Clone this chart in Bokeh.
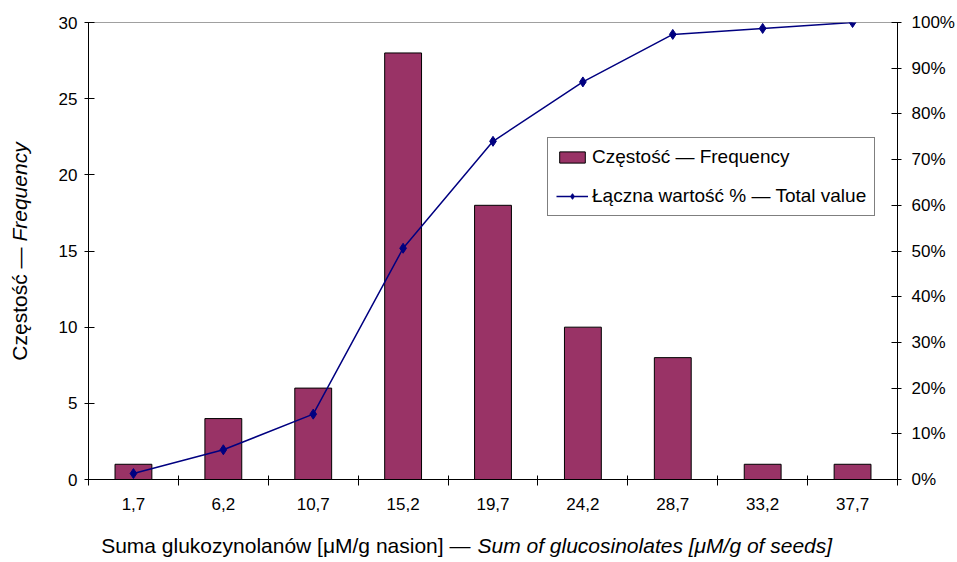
import math
from bokeh.plotting import figure
from bokeh.models import (Range1d, LinearAxis, FixedTicker, CustomJSTickFormatter,
                          Label, Legend, LegendItem, ColumnDataSource)
from bokeh.embed import file_html
from bokeh.resources import INLINE

# ---- data ----
categories = ["1,7", "6,2", "10,7", "15,2", "19,7", "24,2", "28,7", "33,2", "37,7"]
frequency = [1, 4, 6, 28, 18, 10, 8, 1, 1]
cumulative_pct = [1.3, 6.5, 14.3, 50.6, 74.0, 87.0, 97.4, 98.7, 100.0]
left_ticks = [0, 5, 10, 15, 20, 25, 30]
right_ticks = [0, 10, 20, 30, 40, 50, 60, 70, 80, 90, 100]

FONT = "Liberation Sans"
BAR = "#993366"
LINE = "#000080"

xpos = [i + 0.5 for i in range(len(categories))]
src = ColumnDataSource(dict(x=xpos, freq=frequency, cum=cumulative_pct, cat=categories))

p = figure(width=957, height=562, output_backend="svg", toolbar_location=None,
           x_range=Range1d(0, len(categories)), y_range=Range1d(0, 30),
           x_axis_type=None, y_axis_type=None,
           min_border_left=88, min_border_right=60, min_border_top=22, min_border_bottom=83)
p.extra_y_ranges = {"pct": Range1d(0, 100)}
p.outline_line_color = "#a0a0a0"
p.background_fill_color = "white"
p.border_fill_color = "white"

def style_axis(ax):
    ax.axis_line_color = "black"
    ax.axis_line_width = 1
    ax.major_label_text_font = FONT
    ax.major_label_text_font_size = "17px"
    ax.major_label_text_color = "black"
    ax.major_tick_line_color = "black"
    ax.major_tick_in = 6
    ax.major_tick_out = 4
    ax.minor_tick_line_color = None

# bottom axis: labels at category centres, ticks between categories
xaxis = LinearAxis(ticker=FixedTicker(ticks=xpos, minor_ticks=list(range(len(categories) + 1))),
                   formatter=CustomJSTickFormatter(args=dict(labels=categories),
                                                   code="return labels[Math.floor(tick)];"))
style_axis(xaxis)
xaxis.major_tick_line_color = None
xaxis.minor_tick_line_color = "black"
xaxis.minor_tick_in = 4
xaxis.minor_tick_out = 6
xaxis.major_label_standoff = 12
p.add_layout(xaxis, "below")

yaxis = LinearAxis(ticker=FixedTicker(ticks=left_ticks))
style_axis(yaxis)
yaxis.major_label_standoff = 7
p.add_layout(yaxis, "left")

raxis = LinearAxis(y_range_name="pct", ticker=FixedTicker(ticks=right_ticks),
                   formatter=CustomJSTickFormatter(code="return tick + '%';"))
style_axis(raxis)
raxis.major_label_standoff = 10
p.add_layout(raxis, "right")

bars = p.vbar(x="x", top="freq", bottom=0, width=0.41, source=src,
              fill_color=BAR, line_color="black", line_width=1)
ln = p.line(x="x", y="cum", source=src, y_range_name="pct", line_color=LINE, line_width=1.5)
pts = p.scatter(x="x", y="cum", source=src, y_range_name="pct", marker="diamond",
                size=10, fill_color=LINE, line_color=LINE)

legend = Legend(items=[LegendItem(label="Częstość — Frequency", renderers=[bars]),
                       LegendItem(label="Łączna wartość % — Total value", renderers=[ln, pts])],
                location=(459, 263))
legend.label_text_font = FONT
legend.label_text_font_size = "19px"
legend.label_text_color = "black"
legend.glyph_width = 32
legend.glyph_height = 14
legend.label_standoff = 4
legend.spacing = 17
legend.padding = 8
legend.margin = 0
legend.border_line_color = "black"
legend.border_line_width = 1
legend.background_fill_color = "white"
legend.background_fill_alpha = 1
p.add_layout(legend)

# axis titles (mixed upright / italic), placed in side panels so they are not clipped
common = dict(text_font=FONT, text_font_size="21px", text_color="black",
              text_baseline="middle")
p.add_layout(Label(x=-0.77, y=15.23, text="Częstość —", angle=math.pi / 2,
                   text_align="right", **common), "left")
p.add_layout(Label(x=-0.77, y=15.62, text="Frequency", angle=math.pi / 2,
                   text_align="left", text_font_style="italic", **common), "left")
p.add_layout(Label(x=4.249, y=-4.35, text="Suma glukozynolanów [μM/g nasion] —",
                   text_align="right", **common), "below")
p.add_layout(Label(x=4.327, y=-4.35, text="Sum of glucosinolates [μM/g of seeds]",
                   text_align="left", text_font_style="italic", **common), "below")

open("out.html", "w").write(file_html(p, INLINE))
